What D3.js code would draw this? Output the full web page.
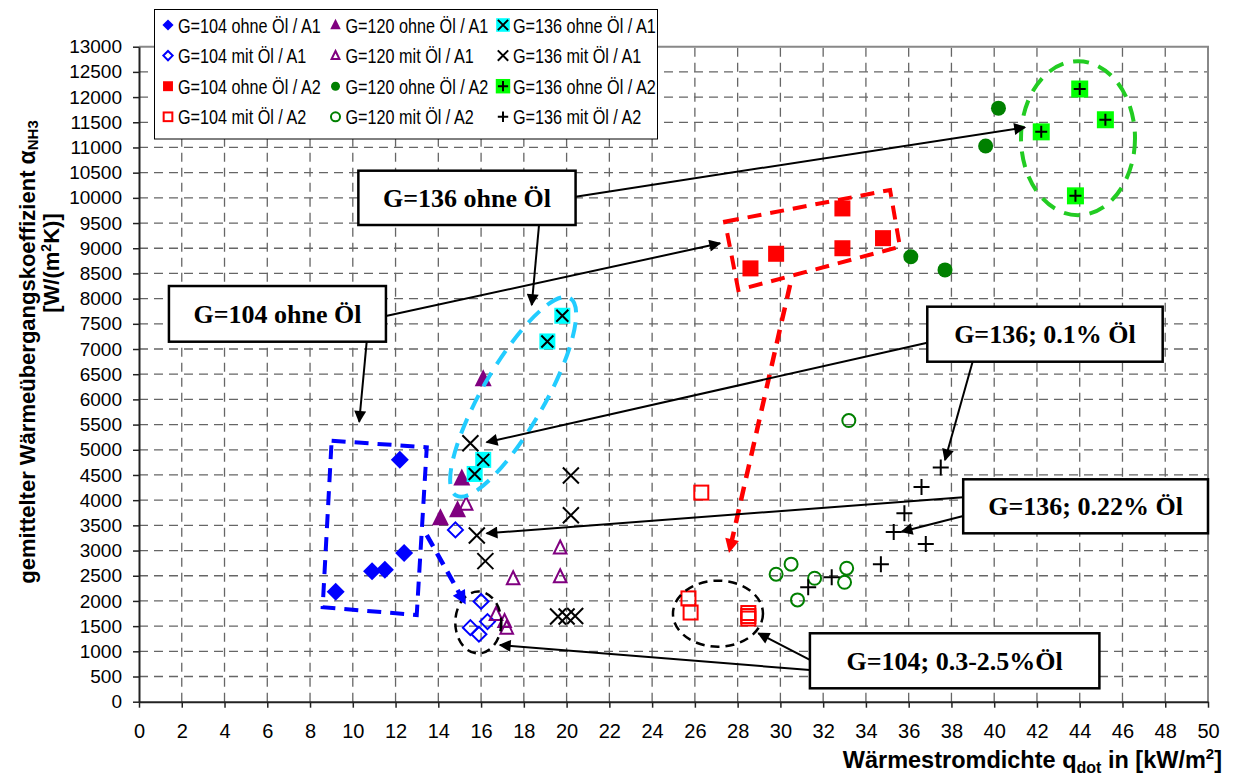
<!DOCTYPE html>
<html>
<head>
<meta charset="utf-8">
<script src="https://cdn.jsdelivr.net/npm/d3@7"></script>
<style>
  body { margin: 0; background: #fff; }
  svg { display: block; font-family: Arial, "Liberation Sans", sans-serif; }
</style>
</head>
<body>
<svg id="chart" width="1234" height="778"></svg>
<script>
// values: [q in kW/m2, alpha in W/(m2K)]
const g104ohneA1 = [[9.2, 2180], [10.9, 2590], [11.5, 2620], [12.4, 2950], [12.2, 4800]];
const g120ohneA1 = [[14.1, 3640], [14.9, 3800], [15.1, 4430], [16.1, 6400]];
const g136ohneA1 = [[15.7, 4520], [16.1, 4800], [19.1, 7150], [19.8, 7660]];
const g104mitA1 = [[14.8, 3410], [16.0, 1990], [15.5, 1470], [16.3, 1590], [15.9, 1340]];
const g120mitA1 = [[15.3, 3920], [19.7, 3050], [19.7, 2480], [17.5, 2440], [16.7, 1730], [17.1, 1590], [17.2, 1460]];
const g136mitA1 = [[15.5, 5130], [15.8, 3300], [16.2, 2790], [20.2, 4490], [20.2, 3700], [19.6, 1690], [20.0, 1690], [20.4, 1700]];
const g104ohneA2 = [[28.6, 8600], [29.8, 8890], [32.9, 9000], [32.9, 9790], [34.8, 9200]];
const g120ohneA2 = [[36.1, 8830], [37.7, 8570], [39.6, 11030], [40.2, 11780]];
const g136ohneA2 = [[42.2, 11310], [43.8, 10040], [44.0, 12160], [45.2, 11550]];
const g104mitA2 = [[26.3, 4150], [25.7, 2050], [25.8, 1770], [28.5, 1760], [28.5, 1700], [28.5, 1650]];
const g120mitA2 = [[29.8, 2530], [30.5, 2730], [30.8, 2020], [31.6, 2450], [33.0, 2370], [33.1, 2650], [33.2, 5580]];
const g136mitA2 = [[31.3, 2270], [32.4, 2470], [34.7, 2730], [35.3, 3370], [35.8, 3740], [36.6, 4260], [36.8, 3130], [37.5, 4650]];

const seriesNames = [
  'G=104 ohne Öl / A1', 'G=120 ohne Öl / A1', 'G=136 ohne Öl / A1',
  'G=104 mit Öl / A1', 'G=120 mit Öl / A1', 'G=136 mit Öl / A1',
  'G=104 ohne Öl / A2', 'G=120 ohne Öl / A2', 'G=136 ohne Öl / A2',
  'G=104 mit Öl / A2', 'G=120 mit Öl / A2', 'G=136 mit Öl / A2'
];
const seriesData = [g104ohneA1, g120ohneA1, g136ohneA1, g104mitA1, g120mitA1, g136mitA1,
  g104ohneA2, g120ohneA2, g136ohneA2, g104mitA2, g120mitA2, g136mitA2];
const seriesMarks = ['diamond', 'tri', 'sqX', 'diamondOpen', 'triOpen', 'x',
  'sq', 'dot', 'sqPlus', 'sqOpen', 'circOpen', 'plus'];

const xTicks = [0, 2, 4, 6, 8, 10, 12, 14, 16, 18, 20, 22, 24, 26, 28, 30, 32, 34, 36, 38, 40, 42, 44, 46, 48, 50];
const yTicks = [0, 500, 1000, 1500, 2000, 2500, 3000, 3500, 4000, 4500, 5000, 5500, 6000, 6500,
  7000, 7500, 8000, 8500, 9000, 9500, 10000, 10500, 11000, 11500, 12000, 12500, 13000];

// annotation callouts (in data units)
const noteBoxes = [
  { t: 'G=136 ohne Öl', x0: 10.26, y0: 10539, x1: 20.42, y1: 9461 },
  { t: 'G=104 ohne Öl', x0: 1.40, y0: 8250, x1: 11.55, y1: 7145 },
  { t: 'G=136; 0.1% Öl', x0: 36.87, y0: 7840, x1: 47.88, y1: 6748 },
  { t: 'G=136; 0.22% Öl', x0: 38.55, y0: 4414, x1: 50.0, y1: 3342 },
  { t: 'G=104; 0.3-2.5%Öl', x0: 31.38, y0: 1358, x1: 44.92, y1: 266 }
];
const noteArrows = [
  [11.55, 7655, 27.18, 9098], [10.65, 7145, 10.30, 5557],
  [20.42, 10023, 41.44, 11400], [18.71, 9461, 18.37, 7873],
  [36.87, 7125, 16.26, 5148], [38.99, 6748, 37.70, 4797],
  [38.55, 4057, 16.26, 3342], [38.55, 3686, 35.67, 3374],
  [31.38, 629, 16.88, 1125], [31.38, 828, 28.97, 1358]
];

const svg = d3.select('#chart');
const x = d3.scaleLinear().domain([0, 50]).range([139, 1208]);
const y = d3.scaleLinear().domain([0, 13000]).range([701.7, 46.7]);

// grid
const grid = svg.append('g');
grid.selectAll('.gx').data(xTicks.slice(1, -1)).enter().append('line')
  .attr('x1', d => x(d)).attr('x2', d => x(d)).attr('y1', y(0)).attr('y2', y(13000))
  .attr('stroke', '#666').attr('stroke-width', 1.3).attr('stroke-dasharray', '9,6');
grid.selectAll('.gy').data(yTicks.slice(1, -1)).enter().append('line')
  .attr('x1', x(0)).attr('x2', x(50)).attr('y1', d => y(d)).attr('y2', d => y(d))
  .attr('stroke', '#666').attr('stroke-width', 1.3).attr('stroke-dasharray', '9,6');
// frame top/right
svg.append('path')
  .attr('d', `M${x(0)},${y(13000)}H${x(50)}V${y(0)}`)
  .attr('fill', 'none').attr('stroke', '#888').attr('stroke-width', 2);

// axes
const xAxis = svg.append('g').attr('transform', `translate(0,${y(0)})`)
  .call(d3.axisBottom(x).tickValues(xTicks).tickSizeInner(6).tickSizeOuter(0).tickPadding(16));
const yAxis = svg.append('g').attr('transform', `translate(${x(0)},0)`)
  .call(d3.axisLeft(y).tickValues(yTicks).tickSizeInner(6).tickSizeOuter(0).tickPadding(11).tickFormat(d => d));
[xAxis, yAxis].forEach(a => {
  a.select('.domain').attr('stroke', '#222').attr('stroke-width', 2);
  a.selectAll('.tick line').attr('stroke', '#222').attr('stroke-width', 1.5);
  a.selectAll('.tick text').attr('fill', '#000').style('font-family', 'Arial, "Liberation Sans", sans-serif');
});
xAxis.selectAll('.tick text').style('font-size', '20px');
yAxis.selectAll('.tick text').style('font-size', '19px');

// axis titles
const yt = svg.append('text')
  .attr('transform', 'translate(35,352) rotate(-90)')
  .attr('text-anchor', 'middle').style('font-weight', 'bold').style('font-size', '22px');
yt.append('tspan').text('gemittelter Wärmeübergangskoeffizient ');
yt.append('tspan').text('α').style('font-size', '23px');
yt.append('tspan').text('NH3').style('font-size', '15px').attr('dy', 3);
const yt2 = svg.append('text')
  .attr('transform', 'translate(59,263) rotate(-90)')
  .attr('text-anchor', 'middle').style('font-weight', 'bold').style('font-size', '22px');
yt2.append('tspan').text('[W/(m');
yt2.append('tspan').text('2').style('font-size', '14px').attr('dy', -8);
yt2.append('tspan').text('K)]').attr('dy', 8);

const xt = svg.append('text')
  .attr('x', 1222).attr('y', 768)
  .attr('text-anchor', 'end').style('font-weight', 'bold').style('font-size', '23.5px');
xt.append('tspan').text('Wärmestromdichte q');
xt.append('tspan').text('dot').style('font-size', '16px').attr('dy', 5);
xt.append('tspan').text(' in [kW/m').attr('dy', -5);
xt.append('tspan').text('2').style('font-size', '15px').attr('dy', -9);
xt.append('tspan').text(']').attr('dy', 9);

// marker shapes
function drawMark(g, kind, k) {
  const s = v => v * k;
  if (kind === 'diamond') {
    g.append('path').attr('d', `M0,${-s(9)}L${s(9)},0L0,${s(9)}L${-s(9)},0Z`).attr('fill', '#0000ff');
  } else if (kind === 'diamondOpen') {
    g.append('path').attr('d', `M0,${-s(7.5)}L${s(7.5)},0L0,${s(7.5)}L${-s(7.5)},0Z`)
      .attr('fill', 'none').attr('stroke', '#0000ff').attr('stroke-width', 2);
  } else if (kind === 'tri') {
    g.append('path').attr('d', `M0,${-s(10)}L${s(8.5)},${s(7)}L${-s(8.5)},${s(7)}Z`).attr('fill', '#800080');
  } else if (kind === 'triOpen') {
    g.append('path').attr('d', `M0,${-s(7.5)}L${s(6.3)},${s(5.5)}L${-s(6.3)},${s(5.5)}Z`)
      .attr('fill', 'none').attr('stroke', '#800080').attr('stroke-width', 2);
  } else if (kind === 'sqX') {
    g.append('rect').attr('x', -s(8)).attr('y', -s(8)).attr('width', s(16)).attr('height', s(16)).attr('fill', '#00ffff');
    g.append('path').attr('d', `M${-s(6)},${-s(6)}L${s(6)},${s(6)}M${s(6)},${-s(6)}L${-s(6)},${s(6)}`)
      .attr('stroke', '#000').attr('stroke-width', 2);
  } else if (kind === 'x') {
    g.append('path').attr('d', `M${-s(8)},${-s(8)}L${s(8)},${s(8)}M${s(8)},${-s(8)}L${-s(8)},${s(8)}`)
      .attr('stroke', '#000').attr('stroke-width', 2);
  } else if (kind === 'sq') {
    g.append('rect').attr('x', -s(8)).attr('y', -s(8)).attr('width', s(16)).attr('height', s(16)).attr('fill', '#ff0000');
  } else if (kind === 'dot') {
    g.append('circle').attr('r', s(7.5)).attr('fill', '#008000');
  } else if (kind === 'sqPlus') {
    g.append('rect').attr('x', -s(8.5)).attr('y', -s(8.5)).attr('width', s(17)).attr('height', s(17)).attr('fill', '#00ff00');
    g.append('path').attr('d', `M${-s(6)},0H${s(6)}M0,${-s(6)}V${s(6)}`)
      .attr('stroke', '#000').attr('stroke-width', 2);
  } else if (kind === 'sqOpen') {
    g.append('rect').attr('x', -s(7)).attr('y', -s(7)).attr('width', s(14)).attr('height', s(14))
      .attr('fill', 'none').attr('stroke', '#ff0000').attr('stroke-width', 2);
  } else if (kind === 'circOpen') {
    g.append('circle').attr('r', s(6.5)).attr('fill', 'none').attr('stroke', '#008000').attr('stroke-width', 2);
  } else if (kind === 'plus') {
    g.append('path').attr('d', `M${-s(8)},0H${s(8)}M0,${-s(8)}V${s(8)}`)
      .attr('stroke', '#000').attr('stroke-width', 2);
  }
}

// points
seriesData.forEach((data, i) => {
  svg.append('g').selectAll('g').data(data).enter().append('g')
    .attr('transform', d => `translate(${x(d[0])},${y(d[1])})`)
    .each(function () { drawMark(d3.select(this), seriesMarks[i], 1); });
});

// legend
const leg = svg.append('g');
leg.append('rect').attr('x', 154.5).attr('y', 9.5).attr('width', 503).attr('height', 129.5)
  .attr('fill', '#fff').attr('stroke', '#000').attr('stroke-width', 1);
const legOrder = [0, 3, 6, 9, 1, 4, 7, 10, 2, 5, 8, 11];
const legScale = { sqX: 0.85, sqPlus: 0.85, x: 0.65, plus: 0.65, circOpen: 0.7, dot: 0.6 };
legOrder.forEach((si, j) => {
  const col = Math.floor(j / 4), row = j % 4;
  const cx = 168 + col * 167.5, cy = 25 + row * 30.6;
  const g = leg.append('g').attr('transform', `translate(${cx},${cy})`);
  drawMark(g, seriesMarks[si], legScale[seriesMarks[si]] || 0.62);
  leg.append('text').attr('transform', `translate(${cx + 10},${cy + 7.5}) scale(1,1.22)`)
    .style('font-size', '16.2px').text(seriesNames[si]);
});

// callout shapes
const notes = svg.append('g');
const defs = svg.append('defs');
[['ahBlack', '#000', 16, 12], ['ahBlue', '#0000ff', 18, 14], ['ahRed', '#ff0000', 18, 14]].forEach(m => {
  defs.append('marker').attr('id', m[0]).attr('viewBox', '0 0 10 10')
    .attr('refX', 9).attr('refY', 5).attr('markerUnits', 'userSpaceOnUse')
    .attr('markerWidth', m[2]).attr('markerHeight', m[3]).attr('orient', 'auto')
    .append('path').attr('d', 'M0,0L10,5L0,10Z').attr('fill', m[1]);
});

const poly = pts => 'M' + pts.map(p => `${x(p[0])},${y(p[1])}`).join('L') + 'Z';
notes.append('path').attr('d', poly([[9.01, 5180], [13.46, 5049], [12.99, 1721], [8.59, 1874]]))
  .attr('fill', 'none').attr('stroke', '#0000ff').attr('stroke-width', 4).attr('stroke-dasharray', '14,9');
notes.append('path').attr('d', poly([[27.41, 9527], [35.13, 10156], [35.59, 9030], [28.03, 8171]]))
  .attr('fill', 'none').attr('stroke', '#ff0000').attr('stroke-width', 4).attr('stroke-dasharray', '14,9');

notes.append('ellipse').attr('cx', x(43.92)).attr('cy', y(11185)).attr('rx', 57).attr('ry', 77)
  .attr('fill', 'none').attr('stroke', '#22cc22').attr('stroke-width', 4).attr('stroke-dasharray', '16,10');
notes.append('ellipse')
  .attr('transform', `translate(${x(17.5)},${y(6050)}) rotate(-60)`)
  .attr('rx', 114).attr('ry', 31)
  .attr('fill', 'none').attr('stroke', '#22ccff').attr('stroke-width', 4).attr('stroke-dasharray', '16,10');
notes.append('ellipse').attr('cx', x(15.87)).attr('cy', y(1572)).attr('rx', 23).attr('ry', 31)
  .attr('fill', 'none').attr('stroke', '#000').attr('stroke-width', 2.5).attr('stroke-dasharray', '9,6');
notes.append('ellipse').attr('cx', x(27.08)).attr('cy', y(1747)).attr('rx', 45).attr('ry', 33)
  .attr('fill', 'none').attr('stroke', '#000').attr('stroke-width', 2.5).attr('stroke-dasharray', '9,6');

// dashed arrows
notes.append('line').attr('x1', x(13.46)).attr('y1', y(3308)).attr('x2', x(15.25)).attr('y2', y(1953))
  .attr('stroke', '#0000ff').attr('stroke-width', 4.5).attr('stroke-dasharray', '13,8').attr('marker-end', 'url(#ahBlue)');
notes.append('line').attr('x1', x(30.45)).attr('y1', y(8270)).attr('x2', x(27.61)).attr('y2', y(2977))
  .attr('stroke', '#ff0000').attr('stroke-width', 4.5).attr('stroke-dasharray', '14,9').attr('marker-end', 'url(#ahRed)');

// black arrows
notes.selectAll('.arr').data(noteArrows).enter().append('line')
  .attr('x1', d => x(d[0])).attr('y1', d => y(d[1])).attr('x2', d => x(d[2])).attr('y2', d => y(d[3]))
  .attr('stroke', '#000').attr('stroke-width', 2).attr('marker-end', 'url(#ahBlack)');

// text boxes
const nb = notes.selectAll('.nb').data(noteBoxes).enter().append('g');
nb.append('rect')
  .attr('x', d => x(d.x0)).attr('y', d => y(d.y0))
  .attr('width', d => x(d.x1) - x(d.x0)).attr('height', d => y(d.y1) - y(d.y0))
  .attr('fill', '#fff').attr('stroke', '#000').attr('stroke-width', 2.5);
nb.append('text')
  .attr('x', d => (x(d.x0) + x(d.x1)) / 2).attr('y', d => (y(d.y0) + y(d.y1)) / 2 + 9)
  .attr('text-anchor', 'middle')
  .style('font-family', '"Liberation Serif", "Times New Roman", serif')
  .style('font-weight', 'bold').style('font-size', '26px')
  .text(d => d.t);
</script>
</body>
</html>
